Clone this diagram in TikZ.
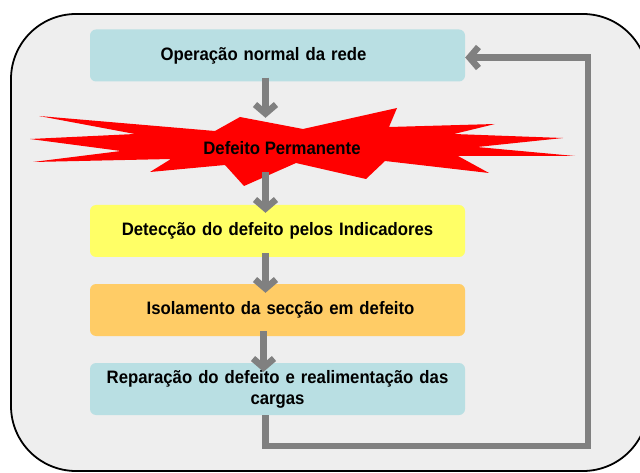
\documentclass[tikz,border=0pt]{standalone}
\usepackage{fontspec}
\setmainfont[FakeStretch=0.93]{Liberation Sans}
\usetikzlibrary{arrows.meta,calc}
\definecolor{bgray}{HTML}{EEEEEE}
\definecolor{lblue}{HTML}{B9DFE3}
\definecolor{lyellow}{HTML}{FFFF66}
\definecolor{lorange}{HTML}{FFCC66}
\definecolor{agray}{HTML}{808080}
\begin{document}
\begin{tikzpicture}[x=1pt,y=-1pt,
  lbl/.style={font=\fontsize{18}{21}\selectfont\bfseries, align=center},
  stepbox/.style={lbl, rounded corners=6pt, minimum width=375pt, minimum height=52pt, inner sep=0pt, text width=370pt},
  flow/.style={draw=agray, line width=6.5pt, -{Straight Barb[length=9pt,width=21pt]}}]
\useasboundingbox (0,0) rectangle (640,473);
\clip (0,0) rectangle (640,473);
\fill[white] (0,0) rectangle (640,473);
\draw[fill=bgray, line width=1.8pt, rounded corners=65pt] (11,14) rectangle (648,471);
% star burst
\fill[red] (39,116) -- (135,134) -- (30,139) -- (121,151) -- (33,162) -- (171,159)
  -- (150,172) -- (225,165) -- (244,186) -- (296,163) -- (366,179) -- (385,161)
  -- (489,173) -- (458,156) -- (575,156) -- (477,147) -- (563,138) -- (454,134)
  -- (495,124) -- (389,127) -- (397,108) -- (303,129) -- (240,117) -- (215,131) -- cycle;
\node[lbl, inner sep=0pt, minimum height=60pt] (star) at (282,148) {Defeito Permanente};
\node[stepbox, fill=lblue] (b1) at (277.5,55.5) {\hspace*{-28pt}Operação normal da rede};
\node[stepbox, fill=lyellow] (b2) at (277.5,231) {Detecção do defeito pelos Indicadores};
\node[stepbox, fill=lorange] (b3) at (277.5,310) {\hspace*{6pt}Isolamento da secção em defeito};
\node[stepbox, fill=lblue] (b4) at (277.5,389) {Reparação do defeito e realimentação das\\cargas};
\coordinate (fbR) at (588,446);
\draw[flow, shorten <=-4pt] ([xshift=-12pt]b1.south) -- ([xshift=-12pt]b1.south |- star.north);
\draw[flow, shorten <=-6pt, shorten >=-8pt] ([xshift=-12pt]b2.north |- star.south) -- ([xshift=-12pt]b2.north);
\draw[flow, shorten <=-4pt, shorten >=-9pt] ([xshift=-12pt]b2.south) -- ([xshift=-12pt]b3.north);
\draw[flow, shorten <=-5pt, shorten >=-9pt] ([xshift=-14pt]b3.south) -- ([xshift=-14pt]b4.north);
\draw[flow] ([xshift=-12pt]b4.south) |- (fbR) |- ([yshift=-2pt]b1.east);
\end{tikzpicture}
\end{document}
